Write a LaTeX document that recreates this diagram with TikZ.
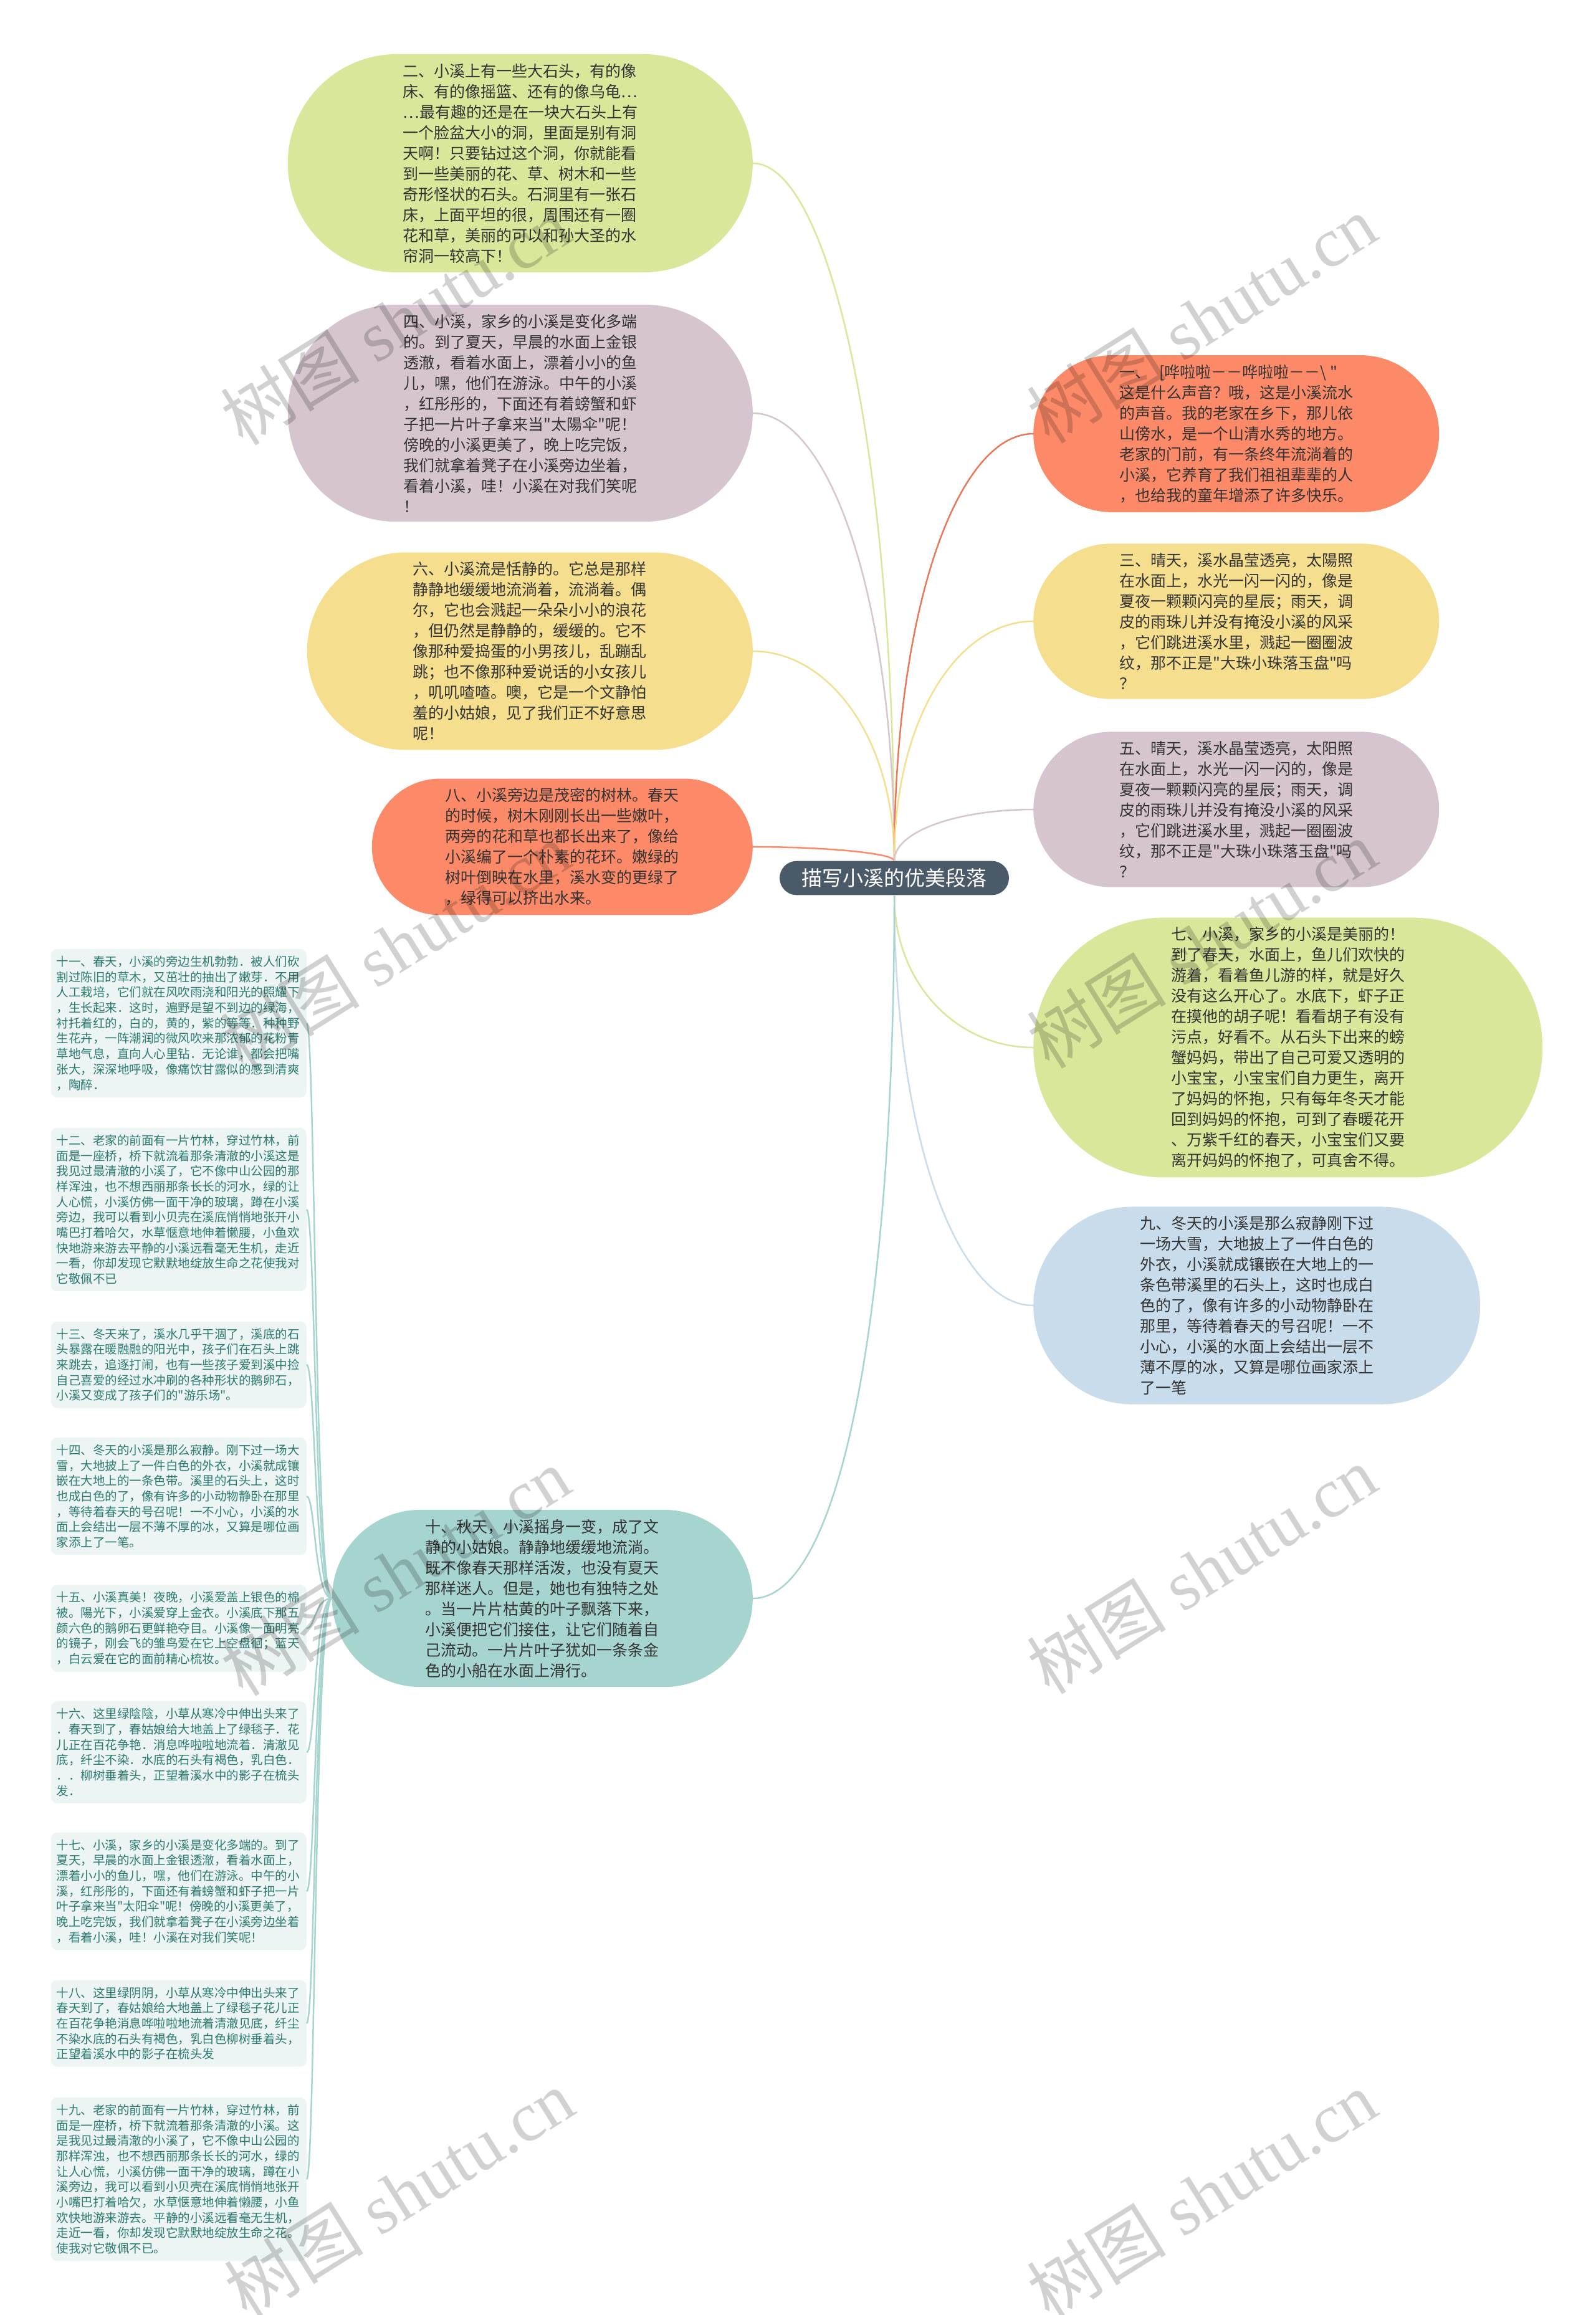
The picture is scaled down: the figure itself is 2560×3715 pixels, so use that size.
\documentclass[tikz,border=0pt]{standalone}
\usepackage{fontspec}
\newfontfamily\cjk{Noto Sans CJK SC}
\newfontfamily\wmserif{Liberation Serif}
\usetikzlibrary{shapes.misc}

\definecolor{cGreen}{HTML}{D8E79A}
\definecolor{cMauve}{HTML}{D6C5CF}
\definecolor{cYellow}{HTML}{F5DF8F}
\definecolor{cCoral}{HTML}{FC8A68}
\definecolor{cCoralLine}{HTML}{E9785B}
\definecolor{cBlue}{HTML}{C8DCEC}
\definecolor{cTeal}{HTML}{A6D4CF}
\definecolor{cRoot}{HTML}{4B5A69}
\definecolor{cLeaf}{HTML}{EDF5F4}
\definecolor{cLeafText}{HTML}{2B7A70}

\tikzset{
  para/.style={rounded rectangle, fill=#1, align=left, text=black!80,
    inner xsep=6pt, inner ysep=15pt, font=\cjk\fontsize{25}{33}\selectfont},
  leaf/.style={rectangle, rounded corners=10pt, fill=cLeaf, text=cLeafText, align=left,
    text width=392pt, inner xsep=9pt, inner ysep=11pt, font=\cjk\fontsize{19.5}{24.7}\selectfont},
  branch/.style={draw=#1, line width=2.5pt},
  wm/.style={rotate=32, text=black, text opacity=0.18, font=\wmserif\fontsize{112}{112}\selectfont}
}

\begin{document}
\begin{tikzpicture}[x=1pt, y=-1pt]
  \fill[white] (0,0) rectangle (2560,3715);
  \useasboundingbox (0,0) rectangle (2560,3715);

  % 中心
  \node[rounded rectangle, fill=cRoot, text=white, inner xsep=6pt, inner ysep=12pt, minimum width=380pt,
    font=\cjk\fontsize{33}{38}\selectfont] (root) at (1435,1409) {描写小溪的优美段落};

  % 左侧
  \node[para=cGreen, anchor=east, minimum width=758pt] (n2) at (1208,262) {二、小溪上有一些大石头，有的像\\床、有的像摇篮、还有的像乌龟…\\…最有趣的还是在一块大石头上有\\一个脸盆大小的洞，里面是别有洞\\天啊！只要钻过这个洞，你就能看\\到一些美丽的花、草、树木和一些\\奇形怪状的石头。石洞里有一张石\\床，上面平坦的很，周围还有一圈\\花和草，美丽的可以和孙大圣的水\\帘洞一较高下！};
  \node[para=cMauve, anchor=east, minimum width=758pt] (n4) at (1208,663) {四、小溪，家乡的小溪是变化多端\\的。到了夏天，早晨的水面上金银\\透澈，看着水面上，漂着小小的鱼\\儿，嘿，他们在游泳。中午的小溪\\，红彤彤的，下面还有着螃蟹和虾\\子把一片叶子拿来当"太陽伞"呢！\\傍晚的小溪更美了，晚上吃完饭，\\我们就拿着凳子在小溪旁边坐着，\\看着小溪，哇！小溪在对我们笑呢\\！};
  \node[para=cYellow, anchor=east, minimum width=727pt] (n6) at (1208,1045) {六、小溪流是恬静的。它总是那样\\静静地缓缓地流淌着，流淌着。偶\\尔，它也会溅起一朵朵小小的浪花\\，但仍然是静静的，缓缓的。它不\\像那种爱捣蛋的小男孩儿，乱蹦乱\\跳；也不像那种爱说话的小女孩儿\\，叽叽喳喳。噢，它是一个文静怕\\羞的小姑娘，见了我们正不好意思\\呢！};
  \node[para=cCoral, anchor=east, minimum width=623pt] (n8) at (1208,1359) {八、小溪旁边是茂密的树林。春天\\的时候，树木刚刚长出一些嫩叶，\\两旁的花和草也都长出来了，像给\\小溪编了一个朴素的花环。嫩绿的\\树叶倒映在水里，溪水变的更绿了\\，绿得可以挤出水来。};
  \node[para=cTeal, anchor=east, minimum width=687pt] (n10) at (1208,2565) {十、秋天，小溪摇身一变，成了文\\静的小姑娘。静静地缓缓地流淌。\\既不像春天那样活泼，也没有夏天\\那样迷人。但是，她也有独特之处\\。当一片片枯黄的叶子飘落下来，\\小溪便把它们接住，让它们随着自\\己流动。一片片叶子犹如一条条金\\色的小船在水面上滑行。};

  % 右侧
  \node[para=cCoral, anchor=west, minimum width=663pt] (n1) at (1658,696) {一、\hspace{14pt}[哗啦啦－－哗啦啦－－\textbackslash\ "\\这是什么声音？哦，这是小溪流水\\的声音。我的老家在乡下，那儿依\\山傍水，是一个山清水秀的地方。\\老家的门前，有一条终年流淌着的\\小溪，它养育了我们祖祖辈辈的人\\，也给我的童年增添了许多快乐。};
  \node[para=cYellow, anchor=west, minimum width=663pt] (n3) at (1658,997) {三、晴天，溪水晶莹透亮，太陽照\\在水面上，水光一闪一闪的，像是\\夏夜一颗颗闪亮的星辰；雨天，调\\皮的雨珠儿并没有掩没小溪的风采\\，它们跳进溪水里，溅起一圈圈波\\纹，那不正是"大珠小珠落玉盘"吗\\？};
  \node[para=cMauve, anchor=west, minimum width=663pt] (n5) at (1658,1299) {五、晴天，溪水晶莹透亮，太阳照\\在水面上，水光一闪一闪的，像是\\夏夜一颗颗闪亮的星辰；雨天，调\\皮的雨珠儿并没有掩没小溪的风采\\，它们跳进溪水里，溅起一圈圈波\\纹，那不正是"大珠小珠落玉盘"吗\\？};
  \node[para=cGreen, anchor=west, minimum width=829pt] (n7) at (1658,1681) {七、小溪，家乡的小溪是美丽的！\\到了春天，水面上，鱼儿们欢快的\\游着，看着鱼儿游的样，就是好久\\没有这么开心了。水底下，虾子正\\在摸他的胡子呢！看看胡子有没有\\污点，好看不。从石头下出来的螃\\蟹妈妈，带出了自己可爱又透明的\\小宝宝，小宝宝们自力更生，离开\\了妈妈的怀抱，只有每年冬天才能\\回到妈妈的怀抱，可到了春暖花开\\、万紫千红的春天，小宝宝们又要\\离开妈妈的怀抱了，可真舍不得。};
  \node[para=cBlue, anchor=west, minimum width=729pt] (n9) at (1658,2095) {九、冬天的小溪是那么寂静刚下过\\一场大雪，大地披上了一件白色的\\外衣，小溪就成镶嵌在大地上的一\\条色带溪里的石头上，这时也成白\\色的了，像有许多的小动物静卧在\\那里，等待着春天的号召呢！一不\\小心，小溪的水面上会结出一层不\\薄不厚的冰，又算是哪位画家添上\\了一笔};

  % 十的子节点
  \node[leaf, anchor=east] (l11) at (492,1642) {十一、春天，小溪的旁边生机勃勃．被人们砍\\割过陈旧的草木，又茁壮的抽出了嫩芽．不用\\人工栽培，它们就在风吹雨浇和阳光的照耀下\\，生长起来．这时，遍野是望不到边的绿海，\\衬托着红的，白的，黄的，紫的等等．种种野\\生花卉，一阵潮润的微风吹来那浓郁的花粉青\\草地气息，直向人心里钻．无论谁，都会把嘴\\张大，深深地呼吸，像痛饮甘露似的感到清爽\\，陶醉．};
  \node[leaf, anchor=east] (l12) at (492,1941) {十二、老家的前面有一片竹林，穿过竹林，前\\面是一座桥，桥下就流着那条清澈的小溪这是\\我见过最清澈的小溪了，它不像中山公园的那\\样浑浊，也不想西丽那条长长的河水，绿的让\\人心慌，小溪仿佛一面干净的玻璃，蹲在小溪\\旁边，我可以看到小贝壳在溪底悄悄地张开小\\嘴巴打着哈欠，水草惬意地伸着懒腰，小鱼欢\\快地游来游去平静的小溪远看毫无生机，走近\\一看，你却发现它默默地绽放生命之花使我对\\它敬佩不已};
  \node[leaf, anchor=east] (l13) at (492,2190) {十三、冬天来了，溪水几乎干涸了，溪底的石\\头暴露在暖融融的阳光中，孩子们在石头上跳\\来跳去，追逐打闹，也有一些孩子爱到溪中捡\\自己喜爱的经过水冲刷的各种形状的鹅卵石，\\小溪又变成了孩子们的"游乐场"。};
  \node[leaf, anchor=east] (l14) at (492,2401) {十四、冬天的小溪是那么寂静。刚下过一场大\\雪，大地披上了一件白色的外衣，小溪就成镶\\嵌在大地上的一条色带。溪里的石头上，这时\\也成白色的了，像有许多的小动物静卧在那里\\，等待着春天的号召呢！一不小心，小溪的水\\面上会结出一层不薄不厚的冰，又算是哪位画\\家添上了一笔。};
  \node[leaf, anchor=east] (l15) at (492,2613) {十五、小溪真美！夜晚，小溪爱盖上银色的棉\\被。陽光下，小溪爱穿上金衣。小溪底下那五\\颜六色的鹅卵石更鲜艳夺目。小溪像一面明亮\\的镜子，刚会飞的雏鸟爱在它上空盘徊；蓝天\\，白云爱在它的面前精心梳妆。};
  \node[leaf, anchor=east] (l16) at (492,2812) {十六、这里绿陰陰，小草从寒冷中伸出头来了\\．春天到了，春姑娘给大地盖上了绿毯子．花\\儿正在百花争艳．消息哗啦啦地流着．清澈见\\底，纤尘不染．水底的石头有褐色，乳白色．\\．．柳树垂着头，正望着溪水中的影子在梳头\\发．};
  \node[leaf, anchor=east] (l17) at (492,3035) {十七、小溪，家乡的小溪是变化多端的。到了\\夏天，早晨的水面上金银透澈，看着水面上，\\漂着小小的鱼儿，嘿，他们在游泳。中午的小\\溪，红彤彤的，下面还有着螃蟹和虾子把一片\\叶子拿来当"太阳伞"呢！傍晚的小溪更美了，\\晚上吃完饭，我们就拿着凳子在小溪旁边坐着\\，看着小溪，哇！小溪在对我们笑呢！};
  \node[leaf, anchor=east] (l18) at (492,3247) {十八、这里绿阴阴，小草从寒冷中伸出头来了\\春天到了，春姑娘给大地盖上了绿毯子花儿正\\在百花争艳消息哗啦啦地流着清澈见底，纤尘\\不染水底的石头有褐色，乳白色柳树垂着头，\\正望着溪水中的影子在梳头发};
  \node[leaf, anchor=east] (l19) at (492,3497) {十九、老家的前面有一片竹林，穿过竹林，前\\面是一座桥，桥下就流着那条清澈的小溪。这\\是我见过最清澈的小溪了，它不像中山公园的\\那样浑浊，也不想西丽那条长长的河水，绿的\\让人心慌，小溪仿佛一面干净的玻璃，蹲在小\\溪旁边，我可以看到小贝壳在溪底悄悄地张开\\小嘴巴打着哈欠，水草惬意地伸着懒腰，小鱼\\欢快地游来游去。平静的小溪远看毫无生机，\\走近一看，你却发现它默默地绽放生命之花。\\使我对它敬佩不已。};

  % 连线
  \draw[branch=cGreen] (root.north) .. controls +(0,-670) and +(120,0) .. (n2.east);
  \draw[branch=cMauve] (root.north) .. controls +(0,-430) and +(120,0) .. (n4.east);
  \draw[branch=cYellow] (root.north) .. controls +(0,-200) and +(120,0) .. (n6.east);
  \draw[branch=cCoral] (root.north) .. controls +(0,-12) and +(120,0) .. (n8.east);
  \draw[branch=cCoralLine] (root.north) .. controls +(0,-410) and +(-120,0) .. (n1.west);
  \draw[branch=cYellow] (root.north) .. controls +(0,-230) and +(-120,0) .. (n3.west);
  \draw[branch=cMauve] (root.north) .. controls +(0,-48) and +(-120,0) .. (n5.west);
  \draw[branch=cGreen] (root.south) .. controls +(0,145) and +(-120,0) .. (n7.west);
  \draw[branch=cBlue] (root.south) .. controls +(0,393) and +(-120,0) .. (n9.west);
  \draw[branch=cTeal] (root.south) .. controls +(0,675) and +(140,0) .. (n10.east);

  \draw[branch=cTeal] (n10.west) .. controls +(-28,0) and +(14,0) .. (l11.east);
  \draw[branch=cTeal] (n10.west) .. controls +(-28,0) and +(14,0) .. (l12.east);
  \draw[branch=cTeal] (n10.west) .. controls +(-28,0) and +(14,0) .. (l13.east);
  \draw[branch=cTeal] (n10.west) .. controls +(-28,0) and +(14,0) .. (l14.east);
  \draw[branch=cTeal] (n10.west) .. controls +(-28,0) and +(14,0) .. (l15.east);
  \draw[branch=cTeal] (n10.west) .. controls +(-28,0) and +(14,0) .. (l16.east);
  \draw[branch=cTeal] (n10.west) .. controls +(-28,0) and +(14,0) .. (l17.east);
  \draw[branch=cTeal] (n10.west) .. controls +(-28,0) and +(14,0) .. (l18.east);
  \draw[branch=cTeal] (n10.west) .. controls +(-28,0) and +(14,0) .. (l19.east);

  % 水印
  \node[wm] (wm1) at (634,515) {{\cjk 树图} shutu.cn};
  \node[wm] (wm2) at (1928,512) {{\cjk 树图} shutu.cn};
  \node[wm] (wm3) at (634,1518) {{\cjk 树图} shutu.cn};
  \node[wm] (wm4) at (1928,1515) {{\cjk 树图} shutu.cn};
  \node[wm] (wm5) at (634,2522) {{\cjk 树图} shutu.cn};
  \node[wm] (wm6) at (1928,2519) {{\cjk 树图} shutu.cn};
  \node[wm] (wm7) at (640,3520) {{\cjk 树图} shutu.cn};
  \node[wm] (wm8) at (1928,3522) {{\cjk 树图} shutu.cn};
\end{tikzpicture}
\end{document}
